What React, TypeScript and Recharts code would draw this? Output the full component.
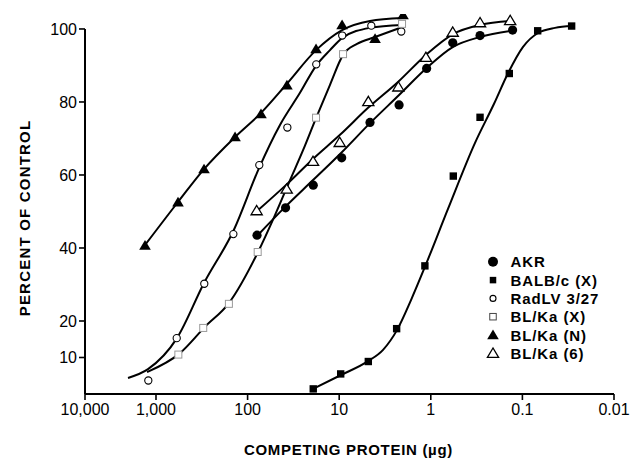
import React from 'react';
import { ComposedChart, Line, Scatter, XAxis, YAxis, ReferenceLine, Label } from 'recharts';

const FONT = '"Liberation Sans", Arial, Helvetica, sans-serif';

// Axis ticks (x axis is log, reversed, first decade compressed as in the original figure)
const xTickValues = [5957, 1000, 100, 10, 1, 0.1, 0.01];
const xTickLabels = ['10,000', '1,000', '100', '10', '1', '0.1', '0.01'];
const yTickValues = [10, 20, 40, 60, 80, 100];

// Series names
const seriesNames = ['AKR', 'BALB/c (X)', 'RadLV 3/27', 'BL/Ka (X)', 'BL/Ka (N)', 'BL/Ka (6)'];

// Measured points (competing protein in µg, percent of control)
const akrX = [78.9, 38.5, 19.2, 9.39, 4.61, 2.22, 1.11, 0.576, 0.29, 0.128];
const akrY = [43.5, 51.0, 57.2, 64.7, 74.4, 79.2, 89.2, 96.2, 98.2, 99.7];

const balbX = [19.2, 9.63, 4.81, 2.36, 1.16, 0.568, 0.29, 0.139, 0.0681, 0.029];
const balbY = [1.4, 5.5, 8.9, 17.9, 35.1, 59.7, 75.8, 87.8, 99.5, 100.8];

const radX = [1213, 594, 297, 143, 74.5, 36.8, 17.8, 9.27, 4.46, 2.1];
const radY = [3.7, 15.3, 30.2, 43.8, 62.7, 73.0, 90.3, 98.2, 100.9, 99.3];

const blxX = [570, 305, 160, 77.6, 17.9, 9.08, 2.06];
const blxY = [10.8, 18.1, 24.7, 38.9, 75.7, 93.1, 101.4];

const blnX = [1318, 575, 299, 137, 71.4, 37.2, 17.9, 9.3, 4.06, 2.01];
const blnY = [40.7, 52.5, 61.6, 70.4, 76.7, 84.6, 94.5, 101.1, 97.3, 103.8];

const bl6X = [79.6, 37.4, 19.3, 9.87, 4.81, 2.26, 1.13, 0.576, 0.29, 0.136];
const bl6Y = [50.2, 56.1, 63.7, 68.9, 80.1, 84.1, 92.2, 99.1, 101.7, 102.3];

// Hand-drawn fitted curves
const akrCurveX = [78.9, 39.1, 19.3, 9.3, 4.61, 2.22, 1.11, 0.571, 0.29, 0.13];
const akrCurveY = [43.3, 51.2, 58.6, 66.3, 74.2, 81.9, 89.3, 95.1, 97.8, 99.5];

const balbCurveX = [19.3, 9.55, 4.84, 3.32, 2.34, 1.64, 1.16, 0.649, 0.329, 0.204, 0.144, 0.0984, 0.0676, 0.0441, 0.0287];
const balbCurveY = [1.4, 5.2, 9.0, 12.1, 17.5, 25.8, 34.8, 50.7, 68.8, 79.5, 87.8, 95.1, 98.9, 100.3, 100.8];

const radCurveX = [2021, 1222, 590, 299, 141, 75.0, 44.3, 26.8, 17.9, 12.6, 9.3, 4.61, 2.06];
const radCurveY = [4.4, 6.8, 15.3, 30.4, 45.0, 61.9, 73.7, 82.5, 89.9, 94.2, 97.5, 100.3, 101.1];

const blxCurveX = [1253, 547, 292, 160, 76.9, 50.2, 34.4, 24.8, 17.9, 12.6, 9.08, 6.39, 4.06, 2.06];
const blxCurveY = [6.0, 11.2, 18.4, 24.9, 38.9, 49.0, 58.6, 66.8, 75.6, 84.7, 92.9, 95.9, 97.8, 100.5];

const blnCurveX = [1318, 575, 299, 137, 71.4, 37.2, 17.9, 9.3, 4.61, 2.06];
const blnCurveY = [40.8, 52.6, 61.6, 70.4, 77.0, 85.0, 94.2, 99.7, 102.2, 103.0];

const bl6CurveX = [78.9, 37.2, 19.3, 9.8, 4.84, 2.28, 1.13, 0.571, 0.29, 0.136];
const bl6CurveY = [50.1, 57.5, 64.4, 71.0, 78.4, 85.5, 92.9, 98.6, 101.1, 102.2];

const toPts = (xs: number[], ys: number[]) => xs.map((x, i) => ({ x, y: ys[i] }));

type MarkerKind = 'fcircle' | 'fsquare' | 'ocircle' | 'osquare' | 'ftri' | 'otri';

const Marker = ({ kind, cx, cy, legend }: { kind: MarkerKind; cx: number; cy: number; legend?: boolean }) => {
  switch (kind) {
    case 'fcircle':
      return <circle cx={cx} cy={cy} r={legend ? 5 : 4.6} fill="#000" />;
    case 'fsquare': {
      const s = legend ? 6.5 : 7.4;
      return <rect x={cx - s / 2} y={cy - s / 2} width={s} height={s} fill="#000" />;
    }
    case 'ocircle':
      return <circle cx={cx} cy={cy} r={legend ? 3 : 3.6} fill="#fff" stroke="#000" strokeWidth={1.1} />;
    case 'osquare': {
      const s = legend ? 6.5 : 7;
      return <rect x={cx - s / 2} y={cy - s / 2} width={s} height={s} fill="#fff" stroke={legend ? '#444' : '#999'} strokeWidth={1} />;
    }
    case 'ftri':
      return <polygon points={`${cx},${cy - 5.5} ${cx - 5.8},${cy + 4.2} ${cx + 5.8},${cy + 4.2}`} fill="#000" />;
    case 'otri':
      return (
        <polygon
          points={`${cx},${cy - 5.3} ${cx - 5.6},${cy + 4} ${cx + 5.6},${cy + 4}`}
          fill="#fff"
          stroke="#000"
          strokeWidth={1.3}
          strokeLinejoin="miter"
        />
      );
    default:
      return null;
  }
};

const series: { name: string; kind: MarkerKind; pts: { x: number; y: number }[]; curve: { x: number; y: number }[] }[] = [
  { name: seriesNames[0], kind: 'fcircle', pts: toPts(akrX, akrY), curve: toPts(akrCurveX, akrCurveY) },
  { name: seriesNames[1], kind: 'fsquare', pts: toPts(balbX, balbY), curve: toPts(balbCurveX, balbCurveY) },
  { name: seriesNames[2], kind: 'ocircle', pts: toPts(radX, radY), curve: toPts(radCurveX, radCurveY) },
  { name: seriesNames[3], kind: 'osquare', pts: toPts(blxX, blxY), curve: toPts(blxCurveX, blxCurveY) },
  { name: seriesNames[4], kind: 'ftri', pts: toPts(blnX, blnY), curve: toPts(blnCurveX, blnCurveY) },
  { name: seriesNames[5], kind: 'otri', pts: toPts(bl6X, bl6Y), curve: toPts(bl6CurveX, bl6CurveY) },
];

const LegendBox = () => (
  <svg width={643} height={463} style={{ position: 'absolute', left: 0, top: 0, pointerEvents: 'none' }}>
    {series.map((s, i) => {
      const base = 267.3 + i * 18.3;
      return (
        <g key={s.name}>
          <Marker kind={s.kind} cx={493} cy={base - 5.5} legend />
          <text x={510.5} y={base} fontFamily={FONT} fontWeight="bold" fontSize={15} letterSpacing={0.9} fill="#000">
            {s.name}
          </text>
        </g>
      );
    })}
  </svg>
);

export default function App() {
  return (
    <div style={{ position: 'absolute', left: 0, top: 0, width: 643, height: 463, background: '#fff' }}>
      <ComposedChart width={643} height={463} margin={{ top: 14, right: 29, bottom: 0, left: 25 }}>
        <XAxis
          dataKey="x"
          type="number"
          scale="log"
          domain={[0.01, 5957]}
          allowDataOverflow
          reversed
          ticks={xTickValues}
          interval={0}
          tickFormatter={(v: number) => {
            const idx = xTickValues.indexOf(v);
            return idx >= 0 ? xTickLabels[idx] : '';
          }}
          height={69}
          tickSize={6}
          tickMargin={4}
          axisLine={{ stroke: '#000', strokeWidth: 2 }}
          tickLine={{ stroke: '#000', strokeWidth: 1.6 }}
          tick={{ fill: '#000', fontSize: 16, fontFamily: FONT }}
        >
          <Label
            content={(props: any) => {
              const vb = props.viewBox || { x: 85, y: 394, width: 529 };
              return (
                <text
                  x={vb.x + vb.width / 2 - 1}
                  y={vb.y + 61}
                  textAnchor="middle"
                  fontFamily={FONT}
                  fontWeight="bold"
                  fontSize={15}
                  letterSpacing={0.7}
                  fill="#000"
                >
                  COMPETING PROTEIN (µg)
                </text>
              );
            }}
          />
        </XAxis>
        <YAxis
          dataKey="y"
          type="number"
          domain={[0, 104.1]}
          allowDataOverflow
          ticks={yTickValues}
          interval={0}
          width={60}
          tickSize={6}
          tickMargin={2}
          axisLine={false}
          tickLine={{ stroke: '#000', strokeWidth: 1.6 }}
          tick={{ fill: '#000', fontSize: 16, fontFamily: FONT }}
        >
          <Label
            content={(props: any) => {
              const vb = props.viewBox || { x: 25, y: 14, width: 60, height: 380 };
              const cx = vb.x - 1;
              const cy = vb.y + vb.height / 2 + 14;
              return (
                <text
                  x={cx}
                  y={cy}
                  transform={`rotate(-90 ${cx} ${cy})`}
                  textAnchor="middle"
                  dominantBaseline="central"
                  fontFamily={FONT}
                  fontWeight="bold"
                  fontSize={15}
                  letterSpacing={1.2}
                  fill="#000"
                >
                  PERCENT OF CONTROL
                </text>
              );
            }}
          />
        </YAxis>
        <ReferenceLine
          segment={[
            { x: 5957, y: 0 },
            { x: 5957, y: 100 },
          ]}
          stroke="#000"
          strokeWidth={2}
        />
        {series.map((s) => (
          <Line
            key={'c-' + s.name}
            data={s.curve}
            dataKey="y"
            type="monotone"
            stroke="#000"
            strokeWidth={2}
            dot={false}
            activeDot={false}
            isAnimationActive={false}
            legendType="none"
          />
        ))}
        {series.map((s) => (
          <Scatter
            key={'p-' + s.name}
            name={s.name}
            data={s.pts}
            dataKey="y"
            isAnimationActive={false}
            shape={(p: any) => <Marker kind={s.kind} cx={p.cx} cy={p.cy} />}
          />
        ))}
      </ComposedChart>
      <LegendBox />
    </div>
  );
}
